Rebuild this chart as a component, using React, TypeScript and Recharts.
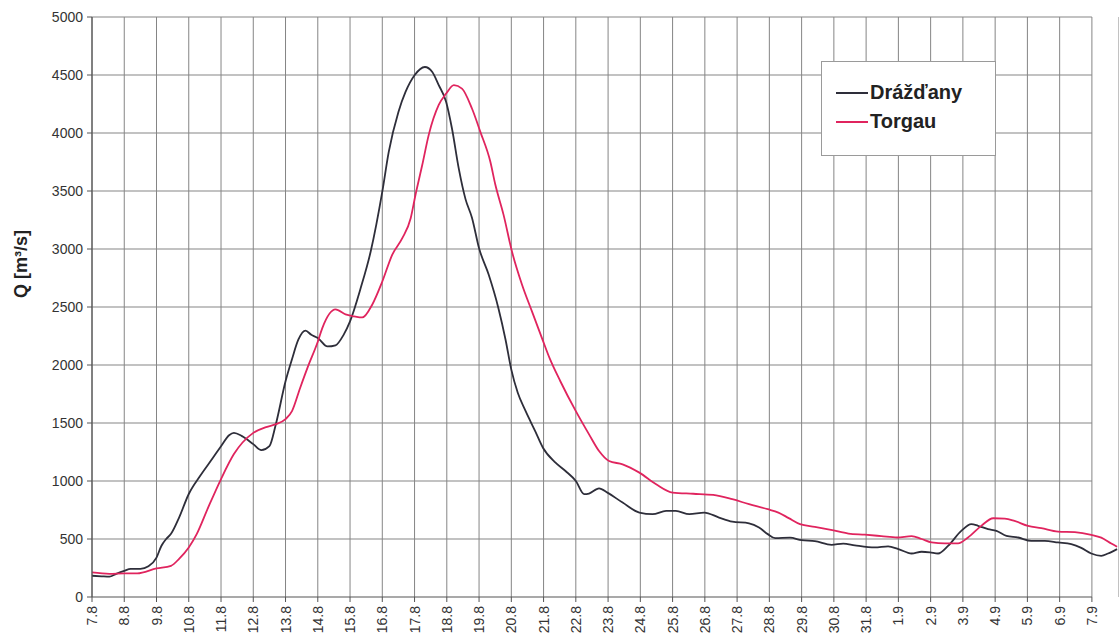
import React from "react";
import { LineChart, Line, XAxis, YAxis, CartesianGrid, ReferenceLine, Legend } from "recharts";

// x positions are days after 7.8 (0 = 7.8, 31 = 7.9)
const dateLabels = [
  "7.8", "8.8", "9.8", "10.8", "11.8", "12.8", "13.8", "14.8", "15.8", "16.8",
  "17.8", "18.8", "19.8", "20.8", "21.8", "22.8", "23.8", "24.8", "25.8", "26.8",
  "27.8", "28.8", "29.8", "30.8", "31.8", "1.9", "2.9", "3.9", "4.9", "5.9", "6.9", "7.9",
];
const yTicks = [0, 500, 1000, 1500, 2000, 2500, 3000, 3500, 4000, 4500, 5000];

const dresdenT = [
  0, 0.3, 0.54, 0.75, 1, 1.2, 1.5, 1.75, 2, 2.15, 2.3, 2.45, 2.7, 3, 3.35, 3.75, 4, 4.25, 4.4, 4.65,
  5, 5.25, 5.5, 5.7, 6, 6.2, 6.4, 6.62, 6.8, 7, 7.3, 7.55, 7.8, 8, 8.33, 8.64, 9, 9.2, 9.5, 9.72,
  10, 10.32, 10.55, 10.75, 10.98, 11.16, 11.37, 11.58, 11.78, 12, 12.3, 12.6, 12.82, 13.0, 13.2, 13.43, 13.74,
  13.98, 14.37, 14.68, 15, 15.26, 15.41, 15.72, 15.98, 16.45, 16.97, 17.38, 17.8, 18.1, 18.52, 18.98,
  19.44, 19.85, 20.37, 20.68, 20.95, 21.18, 21.64, 22, 22.41, 22.93, 23.29, 23.65, 24.27, 24.68, 25,
  25.41, 25.72, 25.98, 26.23, 26.54, 26.95, 27.26, 27.47, 27.78, 28.04, 28.35, 28.71, 29.12, 29.54,
  29.95, 30.36, 30.67, 30.98, 31.29, 31.5, 31.78,
];
const dresdenQ = [
  183, 178, 175, 200, 226, 243, 243, 265, 340, 440, 500, 545, 685, 888, 1043, 1200, 1300, 1395, 1415, 1387,
  1318, 1266, 1300, 1490, 1860, 2050, 2220, 2296, 2260, 2233, 2160, 2170, 2260, 2376, 2663, 2978, 3494, 3838, 4182, 4354,
  4498, 4569, 4526, 4412, 4268, 4039, 3695, 3430, 3270, 3007, 2778, 2490, 2220, 1960, 1760, 1610, 1430,
  1287, 1158, 1086, 1000, 886, 892, 937, 900, 814, 728, 714, 742, 742, 714, 728,
  685, 650, 635, 599, 542, 507, 511, 490, 482, 450, 460, 445, 427, 436, 413,
  375, 390, 385, 375, 441, 570, 628, 614, 585, 570, 527, 513, 484, 484,
  470, 456, 424, 375, 355, 375, 413,
];

const torgauT = [
  0, 0.54, 1, 1.4, 2, 2.45, 2.7, 3, 3.25, 3.6, 4, 4.4, 5, 5.4, 5.7, 6, 6.2, 6.45, 6.7, 7,
  7.14, 7.55, 7.86, 8.12, 8.38, 8.69, 9, 9.31, 9.62, 9.88, 10.03, 10.24, 10.44, 10.75, 10.98, 11.22,
  11.47, 11.78, 12.04, 12.35, 12.5, 12.76, 13.02, 13.33, 13.64, 13.95, 14.2, 14.52, 15, 15.41, 15.72,
  16.03, 16.45, 16.97, 17.49, 18, 18.64, 19.26, 19.85, 20.37, 20.95, 21.28, 21.6, 21.95, 22.41, 22.95,
  23.45, 23.96, 24.47, 24.96, 25.41, 25.72, 26.03, 26.44, 26.85, 27.16, 27.57, 27.94, 28.3, 28.6,
  29.02, 29.43, 29.95, 30.47, 30.98, 31.29, 31.6, 31.78,
];
const torgauQ = [
  212, 200, 203, 203, 246, 269, 329, 427, 544, 770, 1017, 1232, 1415, 1465, 1490, 1533, 1602, 1800, 1990, 2200,
  2318, 2479, 2436, 2420, 2410, 2522, 2720, 2952, 3093, 3265, 3468, 3726, 3984, 4242, 4340, 4412,
  4383, 4211, 4010, 3752, 3560, 3294, 2978, 2694, 2462, 2232, 2050, 1860, 1602, 1402, 1258,
  1172, 1144, 1072, 972, 900, 890, 880, 843, 800, 757, 728, 680, 628, 605, 576,
  547, 537, 525, 513, 525, 500, 470, 462, 462, 513, 613, 679, 676, 656,
  613, 594, 564, 559, 536, 512, 461, 433,
];

const dresden = dresdenT.map((t, i) => ({ t, q: dresdenQ[i] }));
const torgau = torgauT.map((t, i) => ({ t, q: torgauQ[i] }));
const xTicks = dateLabels.map((_, i) => i);
const lastTick = dateLabels.length - 1;

const DARK = "#2e2e3a";
const PINK = "#e0245e";
const GRID = "#858585";
const FONT = "'Liberation Sans', Arial, sans-serif";

const XTick = (props: any) => {
  const { x, y, payload } = props;
  return (
    <g transform={`translate(${x},${y})`}>
      <text transform="rotate(-90)" textAnchor="end" dy="0.36em" fontSize={14} fill="#333" fontFamily={FONT}>
        {dateLabels[payload.value]}
      </text>
    </g>
  );
};

const renderLegend = () => (
  <div
    style={{
      width: 175,
      height: 95,
      border: "1px solid #9a9a9a",
      background: "#fff",
      boxSizing: "border-box",
      fontFamily: FONT,
      fontWeight: 700,
      fontSize: 20,
      color: "#222",
      paddingTop: 16,
      paddingLeft: 14,
    }}
  >
    {[
      { name: "Drážďany", color: DARK },
      { name: "Torgau", color: PINK },
    ].map((e) => (
      <div key={e.name} style={{ display: "flex", alignItems: "center", height: 29 }}>
        <span style={{ display: "inline-block", width: 32, height: 2, background: e.color, marginRight: 2 }} />
        <span>{e.name}</span>
      </div>
    ))}
  </div>
);

export default function App() {
  return (
    <div style={{ position: "absolute", left: 0, top: 0, width: 1119, height: 638, background: "#fff", overflow: "hidden" }}>
      <LineChart width={1119} height={638} margin={{ top: 17, right: 0, bottom: 0, left: 0 }}>
        <CartesianGrid horizontal={false} vertical={true} stroke={GRID} strokeWidth={1} />
        {yTicks.slice(1).map((v) => (
          <ReferenceLine
            key={v}
            segment={[{ x: 0, y: v }, { x: lastTick, y: v }]}
            stroke={GRID}
            strokeWidth={1}
          />
        ))}
        <ReferenceLine segment={[{ x: 0, y: 0 }, { x: lastTick, y: 0 }]} stroke="#555" strokeWidth={1.2} />
        <XAxis
          dataKey="t"
          type="number"
          domain={[0, 31.84]}
          ticks={xTicks}
          interval={0}
          height={41}
          axisLine={false}
          tickLine={{ stroke: "#555" }}
          tickSize={5}
          tickMargin={4}
          tick={<XTick />}
        />
        <YAxis
          type="number"
          domain={[0, 5000]}
          ticks={yTicks}
          interval={0}
          width={92}
          axisLine={{ stroke: "#555", strokeWidth: 1.2 }}
          tickLine={{ stroke: "#555" }}
          tickSize={5}
          tickMargin={4}
          tick={{ fontSize: 14, fill: "#333", fontFamily: FONT }}
        />
        <Legend
          layout="vertical"
          align="center"
          verticalAlign="middle"
          content={renderLegend}
          wrapperStyle={{ left: 821, top: 61, width: 175, height: 95 }}
        />
        <Line
          data={dresden}
          dataKey="q"
          name="Drážďany"
          type="monotone"
          stroke={DARK}
          strokeWidth={1.8}
          dot={false}
          activeDot={false}
          isAnimationActive={false}
        />
        <Line
          data={torgau}
          dataKey="q"
          name="Torgau"
          type="monotone"
          stroke={PINK}
          strokeWidth={1.8}
          dot={false}
          activeDot={false}
          isAnimationActive={false}
        />
      </LineChart>
      <div
        style={{
          position: "absolute",
          left: 21,
          top: 264,
          transform: "translate(-50%, -50%) rotate(-90deg)",
          fontFamily: FONT,
          fontWeight: 700,
          fontSize: 18,
          color: "#222",
          whiteSpace: "nowrap",
        }}
      >
        Q [m³/s]
      </div>
    </div>
  );
}
